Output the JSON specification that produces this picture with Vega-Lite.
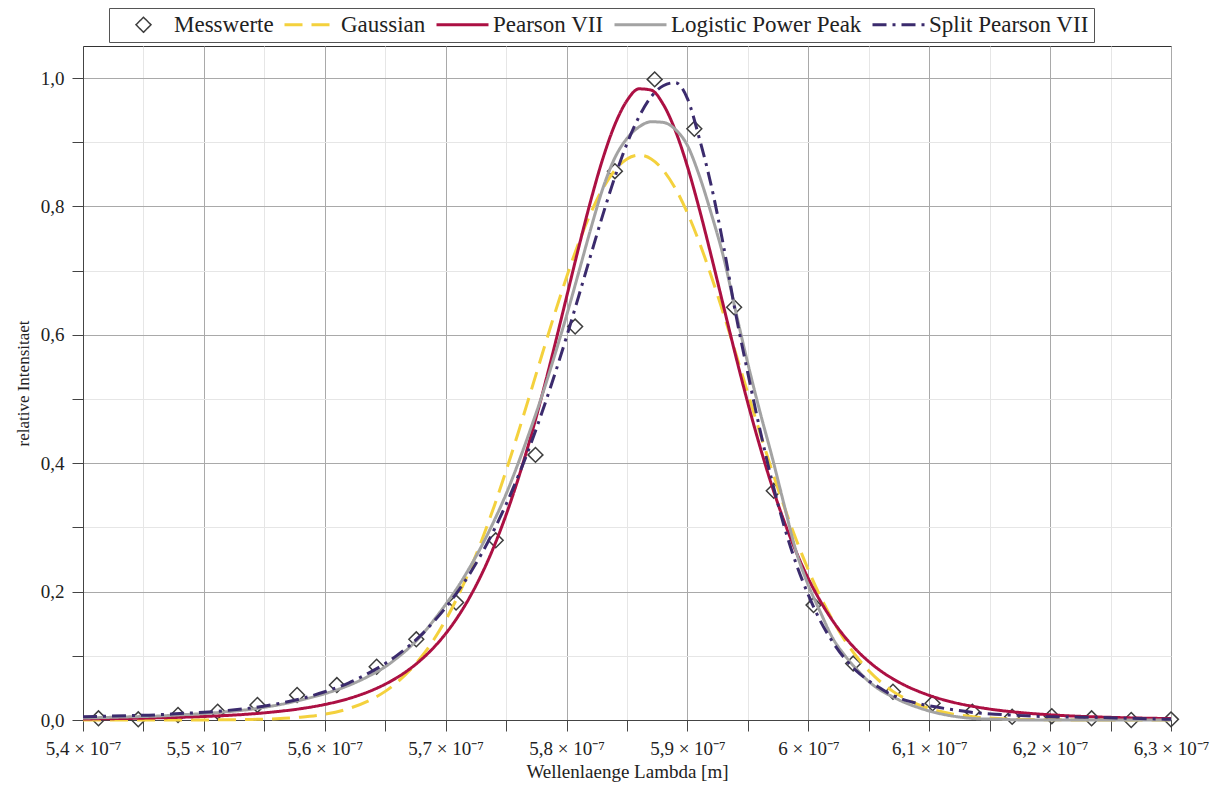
{
  "$schema": "https://vega.github.io/schema/vega-lite/v6.json",
  "width": 1088,
  "height": 674,
  "autosize": {"type": "none"},
  "padding": {"left": 83, "top": 46, "right": 48, "bottom": 65},
  "background": "white",
  "config": {
    "font": "Liberation Serif",
    "view": {"stroke": "#333333", "strokeWidth": 1}
  },
  "datasets": {
    "fits": [
      {"lambda": 5.40e-7, "Gaussian": 0, "Pearson VII": 0.0016, "Logistic Power Peak": 0.003, "Split Pearson VII": 0.005},
      {"lambda": 5.42e-7, "Gaussian": 0, "Pearson VII": 0.0020, "Logistic Power Peak": 0.004, "Split Pearson VII": 0.006},
      {"lambda": 5.44e-7, "Gaussian": 0, "Pearson VII": 0.0025, "Logistic Power Peak": 0.005, "Split Pearson VII": 0.007},
      {"lambda": 5.46e-7, "Gaussian": 0, "Pearson VII": 0.0033, "Logistic Power Peak": 0.006, "Split Pearson VII": 0.008},
      {"lambda": 5.48e-7, "Gaussian": 0, "Pearson VII": 0.0042, "Logistic Power Peak": 0.008, "Split Pearson VII": 0.010},
      {"lambda": 5.50e-7, "Gaussian": 0.0001, "Pearson VII": 0.0055, "Logistic Power Peak": 0.010, "Split Pearson VII": 0.012},
      {"lambda": 5.52e-7, "Gaussian": 0.0004, "Pearson VII": 0.0072, "Logistic Power Peak": 0.013, "Split Pearson VII": 0.015},
      {"lambda": 5.54e-7, "Gaussian": 0.0009, "Pearson VII": 0.0096, "Logistic Power Peak": 0.017, "Split Pearson VII": 0.019},
      {"lambda": 5.56e-7, "Gaussian": 0.0020, "Pearson VII": 0.0130, "Logistic Power Peak": 0.023, "Split Pearson VII": 0.025},
      {"lambda": 5.58e-7, "Gaussian": 0.0044, "Pearson VII": 0.0176, "Logistic Power Peak": 0.031, "Split Pearson VII": 0.033},
      {"lambda": 5.60e-7, "Gaussian": 0.0091, "Pearson VII": 0.0242, "Logistic Power Peak": 0.041, "Split Pearson VII": 0.044},
      {"lambda": 5.62e-7, "Gaussian": 0.0179, "Pearson VII": 0.0335, "Logistic Power Peak": 0.054, "Split Pearson VII": 0.058},
      {"lambda": 5.64e-7, "Gaussian": 0.0334, "Pearson VII": 0.0470, "Logistic Power Peak": 0.072, "Split Pearson VII": 0.077},
      {"lambda": 5.65e-7, "Gaussian": 0.0446, "Pearson VII": 0.0558, "Logistic Power Peak": 0.083, "Split Pearson VII": 0.088},
      {"lambda": 5.66e-7, "Gaussian": 0.0589, "Pearson VII": 0.0664, "Logistic Power Peak": 0.097, "Split Pearson VII": 0.101},
      {"lambda": 5.67e-7, "Gaussian": 0.0767, "Pearson VII": 0.0791, "Logistic Power Peak": 0.113, "Split Pearson VII": 0.116},
      {"lambda": 5.68e-7, "Gaussian": 0.0985, "Pearson VII": 0.0944, "Logistic Power Peak": 0.132, "Split Pearson VII": 0.133},
      {"lambda": 5.69e-7, "Gaussian": 0.1247, "Pearson VII": 0.1127, "Logistic Power Peak": 0.155, "Split Pearson VII": 0.153},
      {"lambda": 5.70e-7, "Gaussian": 0.1559, "Pearson VII": 0.1345, "Logistic Power Peak": 0.180, "Split Pearson VII": 0.175},
      {"lambda": 5.71e-7, "Gaussian": 0.1922, "Pearson VII": 0.1606, "Logistic Power Peak": 0.207, "Split Pearson VII": 0.200},
      {"lambda": 5.72e-7, "Gaussian": 0.2339, "Pearson VII": 0.1916, "Logistic Power Peak": 0.238, "Split Pearson VII": 0.228},
      {"lambda": 5.73e-7, "Gaussian": 0.2807, "Pearson VII": 0.2280, "Logistic Power Peak": 0.272, "Split Pearson VII": 0.260},
      {"lambda": 5.74e-7, "Gaussian": 0.3324, "Pearson VII": 0.2705, "Logistic Power Peak": 0.310, "Split Pearson VII": 0.296},
      {"lambda": 5.75e-7, "Gaussian": 0.3883, "Pearson VII": 0.3197, "Logistic Power Peak": 0.352, "Split Pearson VII": 0.336},
      {"lambda": 5.76e-7, "Gaussian": 0.4476, "Pearson VII": 0.3758, "Logistic Power Peak": 0.400, "Split Pearson VII": 0.380},
      {"lambda": 5.77e-7, "Gaussian": 0.5089, "Pearson VII": 0.4387, "Logistic Power Peak": 0.452, "Split Pearson VII": 0.428},
      {"lambda": 5.78e-7, "Gaussian": 0.5709, "Pearson VII": 0.5080, "Logistic Power Peak": 0.507, "Split Pearson VII": 0.481},
      {"lambda": 5.79e-7, "Gaussian": 0.6318, "Pearson VII": 0.5820, "Logistic Power Peak": 0.567, "Split Pearson VII": 0.537},
      {"lambda": 5.80e-7, "Gaussian": 0.6899, "Pearson VII": 0.6590, "Logistic Power Peak": 0.630, "Split Pearson VII": 0.597},
      {"lambda": 5.81e-7, "Gaussian": 0.7432, "Pearson VII": 0.7358, "Logistic Power Peak": 0.697, "Split Pearson VII": 0.660},
      {"lambda": 5.82e-7, "Gaussian": 0.7898, "Pearson VII": 0.8090, "Logistic Power Peak": 0.765, "Split Pearson VII": 0.724},
      {"lambda": 5.83e-7, "Gaussian": 0.8281, "Pearson VII": 0.8745, "Logistic Power Peak": 0.828, "Split Pearson VII": 0.787},
      {"lambda": 5.84e-7, "Gaussian": 0.8565, "Pearson VII": 0.9277, "Logistic Power Peak": 0.876, "Split Pearson VII": 0.846},
      {"lambda": 5.85e-7, "Gaussian": 0.8741, "Pearson VII": 0.9650, "Logistic Power Peak": 0.906, "Split Pearson VII": 0.898},
      {"lambda": 5.86e-7, "Gaussian": 0.8800, "Pearson VII": 0.9833, "Logistic Power Peak": 0.924, "Split Pearson VII": 0.940},
      {"lambda": 5.87e-7, "Gaussian": 0.8741, "Pearson VII": 0.9813, "Logistic Power Peak": 0.932, "Split Pearson VII": 0.971},
      {"lambda": 5.88e-7, "Gaussian": 0.8565, "Pearson VII": 0.9590, "Logistic Power Peak": 0.931, "Split Pearson VII": 0.988},
      {"lambda": 5.89e-7, "Gaussian": 0.8281, "Pearson VII": 0.9182, "Logistic Power Peak": 0.920, "Split Pearson VII": 0.993},
      {"lambda": 5.90e-7, "Gaussian": 0.7898, "Pearson VII": 0.8622, "Logistic Power Peak": 0.895, "Split Pearson VII": 0.968},
      {"lambda": 5.91e-7, "Gaussian": 0.7432, "Pearson VII": 0.7948, "Logistic Power Peak": 0.847, "Split Pearson VII": 0.905},
      {"lambda": 5.92e-7, "Gaussian": 0.6899, "Pearson VII": 0.7206, "Logistic Power Peak": 0.787, "Split Pearson VII": 0.830},
      {"lambda": 5.93e-7, "Gaussian": 0.6318, "Pearson VII": 0.6434, "Logistic Power Peak": 0.720, "Split Pearson VII": 0.737},
      {"lambda": 5.94e-7, "Gaussian": 0.5709, "Pearson VII": 0.5667, "Logistic Power Peak": 0.636, "Split Pearson VII": 0.632},
      {"lambda": 5.95e-7, "Gaussian": 0.5089, "Pearson VII": 0.4935, "Logistic Power Peak": 0.555, "Split Pearson VII": 0.540},
      {"lambda": 5.96e-7, "Gaussian": 0.4476, "Pearson VII": 0.4259, "Logistic Power Peak": 0.480, "Split Pearson VII": 0.452},
      {"lambda": 5.97e-7, "Gaussian": 0.3883, "Pearson VII": 0.3641, "Logistic Power Peak": 0.410, "Split Pearson VII": 0.372},
      {"lambda": 5.98e-7, "Gaussian": 0.3324, "Pearson VII": 0.3094, "Logistic Power Peak": 0.335, "Split Pearson VII": 0.302},
      {"lambda": 5.99e-7, "Gaussian": 0.2807, "Pearson VII": 0.2616, "Logistic Power Peak": 0.262, "Split Pearson VII": 0.243},
      {"lambda": 6.00e-7, "Gaussian": 0.2339, "Pearson VII": 0.2202, "Logistic Power Peak": 0.210, "Split Pearson VII": 0.195},
      {"lambda": 6.01e-7, "Gaussian": 0.1922, "Pearson VII": 0.1850, "Logistic Power Peak": 0.168, "Split Pearson VII": 0.154},
      {"lambda": 6.02e-7, "Gaussian": 0.1559, "Pearson VII": 0.1550, "Logistic Power Peak": 0.128, "Split Pearson VII": 0.122},
      {"lambda": 6.03e-7, "Gaussian": 0.1247, "Pearson VII": 0.1299, "Logistic Power Peak": 0.101, "Split Pearson VII": 0.096},
      {"lambda": 6.04e-7, "Gaussian": 0.0985, "Pearson VII": 0.1087, "Logistic Power Peak": 0.079, "Split Pearson VII": 0.076},
      {"lambda": 6.05e-7, "Gaussian": 0.0767, "Pearson VII": 0.0911, "Logistic Power Peak": 0.060, "Split Pearson VII": 0.061},
      {"lambda": 6.06e-7, "Gaussian": 0.0589, "Pearson VII": 0.0763, "Logistic Power Peak": 0.046, "Split Pearson VII": 0.049},
      {"lambda": 6.07e-7, "Gaussian": 0.0446, "Pearson VII": 0.0641, "Logistic Power Peak": 0.036, "Split Pearson VII": 0.038},
      {"lambda": 6.08e-7, "Gaussian": 0.0334, "Pearson VII": 0.0539, "Logistic Power Peak": 0.027, "Split Pearson VII": 0.031},
      {"lambda": 6.09e-7, "Gaussian": 0.0247, "Pearson VII": 0.0455, "Logistic Power Peak": 0.020, "Split Pearson VII": 0.026},
      {"lambda": 6.10e-7, "Gaussian": 0.0179, "Pearson VII": 0.0384, "Logistic Power Peak": 0.014, "Split Pearson VII": 0.022},
      {"lambda": 6.12e-7, "Gaussian": 0.0091, "Pearson VII": 0.0275, "Logistic Power Peak": 0.006, "Split Pearson VII": 0.016},
      {"lambda": 6.14e-7, "Gaussian": 0.0044, "Pearson VII": 0.0200, "Logistic Power Peak": 0.002, "Split Pearson VII": 0.011},
      {"lambda": 6.16e-7, "Gaussian": 0.0020, "Pearson VII": 0.0146, "Logistic Power Peak": 0.001, "Split Pearson VII": 0.0085},
      {"lambda": 6.18e-7, "Gaussian": 0.0009, "Pearson VII": 0.0108, "Logistic Power Peak": 0, "Split Pearson VII": 0.0065},
      {"lambda": 6.20e-7, "Gaussian": 0.0004, "Pearson VII": 0.0081, "Logistic Power Peak": 0, "Split Pearson VII": 0.005},
      {"lambda": 6.22e-7, "Gaussian": 0.0001, "Pearson VII": 0.0061, "Logistic Power Peak": 0, "Split Pearson VII": 0.0045},
      {"lambda": 6.24e-7, "Gaussian": 0, "Pearson VII": 0.0047, "Logistic Power Peak": 0, "Split Pearson VII": 0.004},
      {"lambda": 6.26e-7, "Gaussian": 0, "Pearson VII": 0.0036, "Logistic Power Peak": 0, "Split Pearson VII": 0.003},
      {"lambda": 6.28e-7, "Gaussian": 0, "Pearson VII": 0.0028, "Logistic Power Peak": 0, "Split Pearson VII": 0.002},
      {"lambda": 6.30e-7, "Gaussian": 0, "Pearson VII": 0.0022, "Logistic Power Peak": 0, "Split Pearson VII": 0.001}
    ],
    "messwerte": [
      {"series": "Messwerte", "lambda": 5.4128e-7, "intensity": 0.0026},
      {"series": "Messwerte", "lambda": 5.4457e-7, "intensity": 0.0011},
      {"series": "Messwerte", "lambda": 5.4786e-7, "intensity": 0.0078},
      {"series": "Messwerte", "lambda": 5.5114e-7, "intensity": 0.0129},
      {"series": "Messwerte", "lambda": 5.5443e-7, "intensity": 0.0234},
      {"series": "Messwerte", "lambda": 5.5771e-7, "intensity": 0.039},
      {"series": "Messwerte", "lambda": 5.6100e-7, "intensity": 0.0545},
      {"series": "Messwerte", "lambda": 5.6429e-7, "intensity": 0.083},
      {"series": "Messwerte", "lambda": 5.6757e-7, "intensity": 0.1257},
      {"series": "Messwerte", "lambda": 5.7086e-7, "intensity": 0.183},
      {"series": "Messwerte", "lambda": 5.7414e-7, "intensity": 0.280},
      {"series": "Messwerte", "lambda": 5.7743e-7, "intensity": 0.413},
      {"series": "Messwerte", "lambda": 5.8071e-7, "intensity": 0.613},
      {"series": "Messwerte", "lambda": 5.8400e-7, "intensity": 0.855},
      {"series": "Messwerte", "lambda": 5.8729e-7, "intensity": 0.998},
      {"series": "Messwerte", "lambda": 5.9057e-7, "intensity": 0.921},
      {"series": "Messwerte", "lambda": 5.9386e-7, "intensity": 0.643},
      {"series": "Messwerte", "lambda": 5.9714e-7, "intensity": 0.357},
      {"series": "Messwerte", "lambda": 6.0043e-7, "intensity": 0.179},
      {"series": "Messwerte", "lambda": 6.0371e-7, "intensity": 0.088},
      {"series": "Messwerte", "lambda": 6.0700e-7, "intensity": 0.044},
      {"series": "Messwerte", "lambda": 6.1028e-7, "intensity": 0.026},
      {"series": "Messwerte", "lambda": 6.1357e-7, "intensity": 0.013},
      {"series": "Messwerte", "lambda": 6.1686e-7, "intensity": 0.005},
      {"series": "Messwerte", "lambda": 6.2014e-7, "intensity": 0.006},
      {"series": "Messwerte", "lambda": 6.2343e-7, "intensity": 0.0026},
      {"series": "Messwerte", "lambda": 6.2671e-7, "intensity": 0.0},
      {"series": "Messwerte", "lambda": 6.3000e-7, "intensity": 0.001}
    ]
  },
  "encoding": {
    "x": {
      "field": "lambda",
      "type": "quantitative",
      "scale": {"domain": [5.4e-7, 6.3e-7], "nice": false, "zero": false},
      "axis": {
        "values": [5.4e-7, 5.45e-7, 5.5e-7, 5.55e-7, 5.6e-7, 5.65e-7, 5.7e-7, 5.75e-7, 5.8e-7, 5.85e-7, 5.9e-7, 5.95e-7, 6e-7, 6.05e-7, 6.1e-7, 6.15e-7, 6.2e-7, 6.25e-7, 6.3e-7],
        "labelExpr": "abs(datum.value*1e8 - round(datum.value*1e8)) > 0.1 ? '' : ((abs(datum.value*1e7 - 6) < 0.01 ? '6' : replace(format(datum.value*1e7, '.1f'), '.', ',')) + ' × 10⁻⁷')",
        "grid": true,
        "gridColor": {"condition": {"test": "abs(datum.value*1e8 - round(datum.value*1e8)) < 0.1", "value": "#a9a9a9"}, "value": "#e6e6e6"},
        "gridWidth": 1,
        "tickSize": 11,
        "tickColor": "#444444",
        "domainColor": "#444444",
        "labelFont": "Liberation Serif",
        "labelFontSize": 19,
        "labelColor": "#222222",
        "labelPadding": 8,
        "labelFlush": false,
        "labelOverlap": false,
        "title": "Wellenlaenge Lambda [m]",
        "titleFont": "Liberation Serif",
        "titleFontSize": 19,
        "titleFontWeight": "normal",
        "titleColor": "#222222",
        "titlePadding": 4
      }
    },
    "y": {
      "field": "intensity",
      "type": "quantitative",
      "scale": {"domain": [0, 1.05], "nice": false},
      "axis": {
        "values": [0, 0.1, 0.2, 0.3, 0.4, 0.5, 0.6, 0.7, 0.8, 0.9, 1.0],
        "labelExpr": "abs(datum.value*5 - round(datum.value*5)) > 0.01 ? '' : replace(format(datum.value, '.1f'), '.', ',')",
        "grid": true,
        "gridColor": {"condition": {"test": "abs(datum.value*5 - round(datum.value*5)) < 0.01", "value": "#a9a9a9"}, "value": "#e6e6e6"},
        "gridWidth": 1,
        "tickSize": 11,
        "tickColor": "#444444",
        "domainColor": "#444444",
        "labelFont": "Liberation Serif",
        "labelFontSize": 19,
        "labelColor": "#222222",
        "labelPadding": 8,
        "labelFlush": false,
        "labelOverlap": false,
        "title": "relative Intensitaet",
        "titleFont": "Liberation Serif",
        "titleFontSize": 17,
        "titleFontWeight": "normal",
        "titleColor": "#222222",
        "titlePadding": 8
      }
    },
    "color": {
      "field": "series",
      "type": "nominal",
      "scale": {
        "domain": ["Messwerte", "Gaussian", "Pearson VII", "Logistic Power Peak", "Split Pearson VII"],
        "range": ["#3d3d3d", "#F4D13D", "#AC1043", "#A3A3A3", "#3B2B6D"]
      },
      "legend": {
        "title": null,
        "orient": "none",
        "legendX": 26,
        "legendY": -38,
        "direction": "horizontal",
        "symbolType": "stroke",
        "symbolSize": 400,
        "symbolOffset": 18,
        "labelOffset": 19,
        "columnPadding": 4,
        "padding": 5,
        "strokeColor": "#555555",
        "fillColor": "white",
        "labelFont": "Liberation Serif",
        "labelFontSize": 23,
        "labelColor": "#222222",
        "labelLimit": 400,
        "encode": {
          "symbols": {
            "update": {
              "shape": {"signal": "datum.value === 'Messwerte' ? 'M0,-0.75L0.75,0L0,0.75L-0.75,0Z' : 'M-2.6,0L2.6,0'"},
              "strokeWidth": {"signal": "datum.value === 'Messwerte' ? 1.5 : 3"},
              "strokeDash": {"signal": "datum.value === 'Gaussian' ? [18, 9] : (datum.value === 'Split Pearson VII' ? [14, 6, 3, 6] : [1, 0])"},
              "fill": {"value": "transparent"},
              "opacity": {"value": 1}
            }
          }
        }
      }
    }
  },
  "layer": [
    {
      "data": {"name": "messwerte"},
      "mark": {"type": "point", "shape": "diamond", "filled": false, "size": 220, "strokeWidth": 1.5, "opacity": 1}
    },
    {
      "data": {"name": "fits"},
      "transform": [
        {"fold": ["Gaussian", "Pearson VII", "Logistic Power Peak", "Split Pearson VII"], "as": ["series", "intensity"]}
      ],
      "mark": {"type": "line", "interpolate": "monotone", "strokeWidth": 3},
      "encoding": {
        "strokeDash": {
          "field": "series",
          "type": "nominal",
          "scale": {
            "domain": ["Gaussian", "Pearson VII", "Logistic Power Peak", "Split Pearson VII"],
            "range": [[18, 9], [1, 0], [1, 0], [14, 6, 3, 6]]
          },
          "legend": null
        }
      }
    }
  ]
}
